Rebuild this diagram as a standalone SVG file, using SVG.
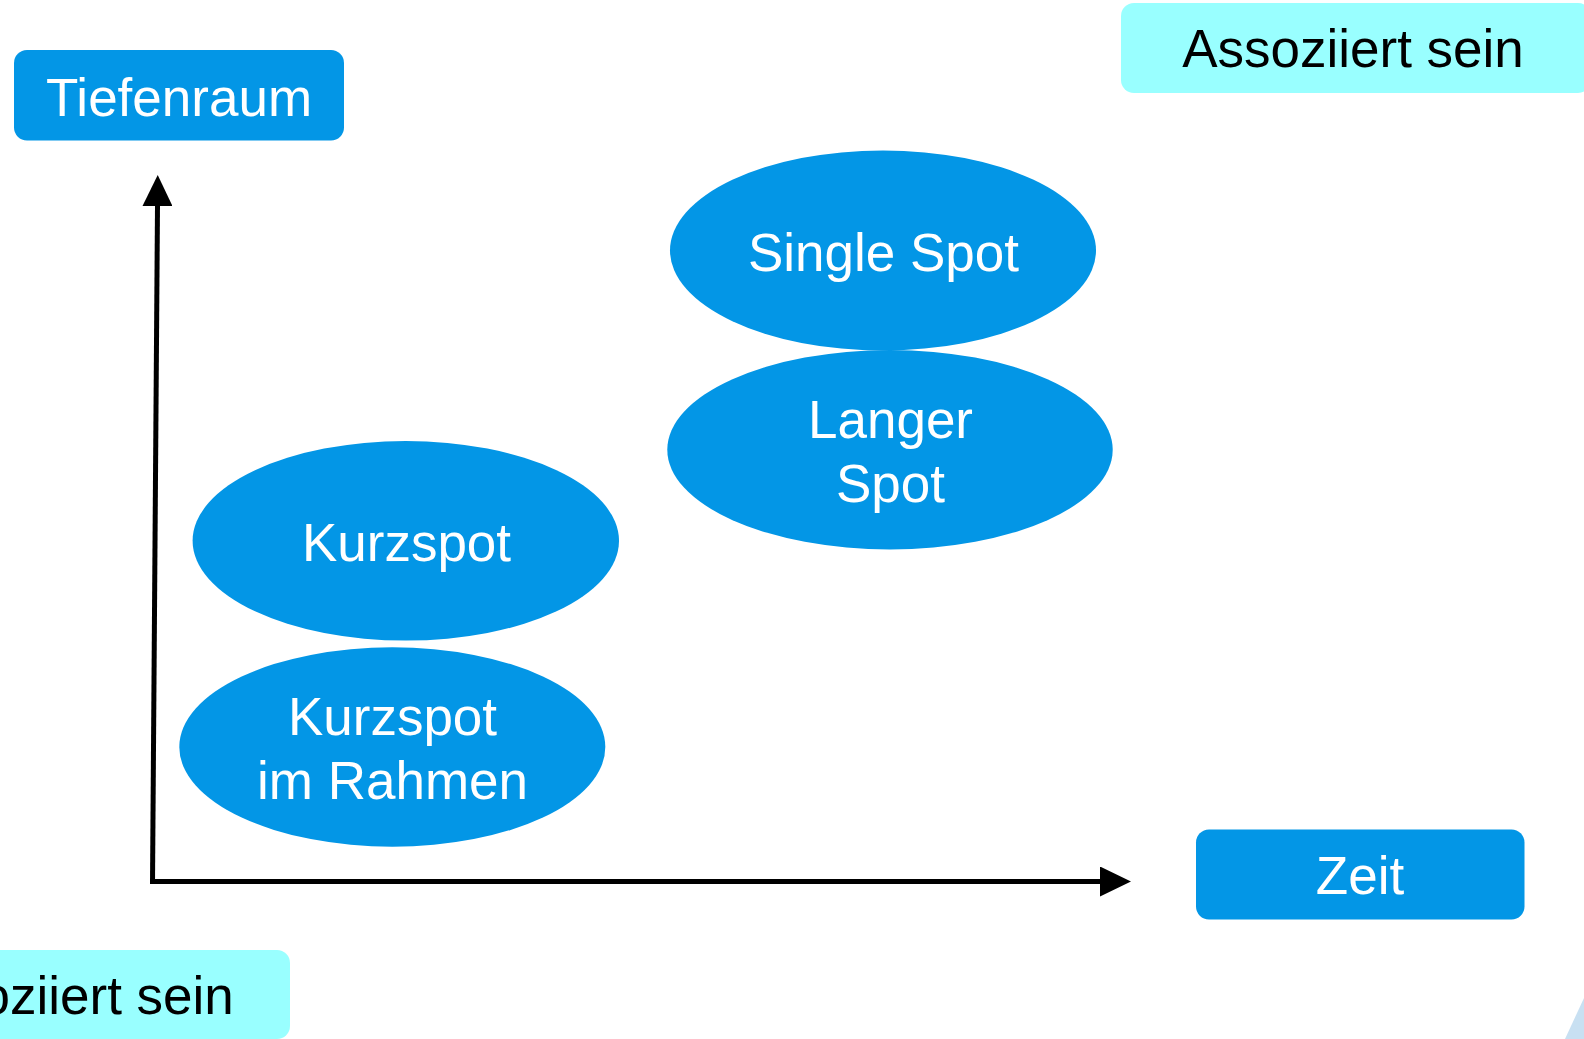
<svg xmlns="http://www.w3.org/2000/svg" width="1584" height="1039" viewBox="0 0 1584 1039">
<style>
.blue{fill:#0396E6}
.cyan{fill:#99FFFF}
.wt{fill:#FFFFFF;font-family:"Liberation Sans",Arial,sans-serif;font-size:53px;text-anchor:middle}
.bt{fill:#000000;font-family:"Liberation Sans",Arial,sans-serif;font-size:53px;text-anchor:middle}
.axis{stroke:#000000;stroke-width:5;fill:none;marker-end:url(#ah)}
</style>
<defs>
<marker id="ah" markerUnits="userSpaceOnUse" markerWidth="31" markerHeight="30" refX="0" refY="15" orient="auto" viewBox="0 0 31 30">
<path d="M0,0 L31,15 L0,30 Z" fill="#000000"/>
</marker>
</defs>
<rect width="1584" height="1039" fill="#FFFFFF"/>
<polygon points="1565,1039 1584,998 1584,1039" fill="#C8E0F2"/>
<g id="connectors">
<line class="axis" x1="152.5" y1="884" x2="157.5" y2="206"/>
<line class="axis" x1="150" y1="881.5" x2="1100" y2="881.5"/>
</g>
<g id="assoziiert-top">
<rect class="cyan" x="1121" y="3" width="470" height="90" rx="13"/>
<text class="bt" x="1353" y="67">Assoziiert sein</text>
</g>
<g id="assoziiert-bottom">
<rect class="cyan" x="-172" y="950" width="462" height="89" rx="13"/>
<text class="bt" x="63" y="1014">Assoziiert sein</text>
</g>
<g id="tiefenraum">
<rect class="blue" x="14" y="50" width="330" height="90.5" rx="13"/>
<text class="wt" x="179" y="116">Tiefenraum</text>
</g>
<g id="zeit">
<rect class="blue" x="1196" y="829.5" width="328.5" height="90" rx="13"/>
<text class="wt" x="1360" y="894">Zeit</text>
</g>
<g id="single-spot">
<ellipse class="blue" cx="883" cy="250.5" rx="213" ry="100"/>
<text class="wt" x="883.5" y="270.5">Single Spot</text>
</g>
<g id="langer-spot">
<ellipse class="blue" cx="890" cy="449.7" rx="222.7" ry="99.7"/>
<text class="wt" x="890.5" y="437.5">Langer</text>
<text class="wt" x="890.5" y="501.5">Spot</text>
</g>
<g id="kurzspot">
<ellipse class="blue" cx="405.8" cy="540.8" rx="213.2" ry="99.8"/>
<text class="wt" x="406.5" y="560.5">Kurzspot</text>
</g>
<g id="kurzspot-im-rahmen">
<ellipse class="blue" cx="392.3" cy="747" rx="213" ry="99.7"/>
<text class="wt" x="392.5" y="735">Kurzspot</text>
<text class="wt" x="392.5" y="799.3">im Rahmen</text>
</g>
</svg>
